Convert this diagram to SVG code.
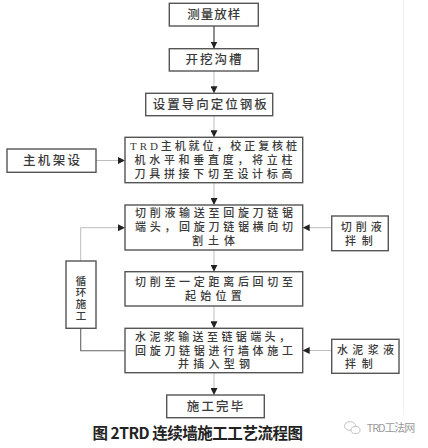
<svg xmlns="http://www.w3.org/2000/svg" width="428" height="448" viewBox="0 0 428 448">
<defs>
<style>
.box{fill:#fff;stroke:#555;stroke-width:1.4}
.t{font-family:"Liberation Serif","Noto Sans CJK SC",serif;font-size:12.5px;fill:#3a3a3a;font-weight:500}
.s{font-size:11px}
.c{text-anchor:middle}
.ln{stroke:#bdbdbd;stroke-width:1;fill:none}
.lnd{stroke:#444;stroke-width:1.2;fill:none}
.cap{font-family:"Noto Sans CJK SC","Liberation Sans",sans-serif;font-size:15.5px;fill:#222;font-weight:700}
.wm{font-family:"Noto Sans CJK SC","Liberation Sans",sans-serif;font-size:11px;fill:#9a9a9a}
</style>
<marker id="ah" viewBox="0 0 8 8" refX="8" refY="4" markerWidth="7" markerHeight="7" markerUnits="userSpaceOnUse" orient="auto">
<path d="M0,0 L8,4 L0,8 z" fill="#222"/>
</marker>
</defs>
<rect width="428" height="448" fill="#fff"/>
<line x1="403.5" y1="0" x2="403.5" y2="415" stroke="#f0f0f0" stroke-width="1"/>

<g id="connectors">
<line class="lnd" x1="214" y1="26" x2="214" y2="48.5" marker-end="url(#ah)"/>
<line class="ln" x1="214" y1="71" x2="214" y2="93.3" marker-end="url(#ah)"/>
<line class="ln" x1="214" y1="115.7" x2="214" y2="137.3" marker-end="url(#ah)"/>
<line class="ln" x1="214" y1="182.7" x2="214" y2="205" marker-end="url(#ah)"/>
<line class="ln" x1="214" y1="250" x2="214" y2="271.7" marker-end="url(#ah)"/>
<line class="ln" x1="214" y1="306" x2="214" y2="328.3" marker-end="url(#ah)"/>
<line class="ln" x1="214" y1="372.7" x2="214" y2="395" marker-end="url(#ah)"/>
<line class="ln" x1="96" y1="160.5" x2="125" y2="160.5" marker-end="url(#ah)"/>
<line class="ln" x1="331.7" y1="227.7" x2="302.7" y2="227.7" marker-end="url(#ah)"/>
<line class="ln" x1="331.7" y1="350.5" x2="302.7" y2="350.5" marker-end="url(#ah)"/>
<polyline class="ln" points="80.7,261 80.7,227.7 125,227.7" marker-end="url(#ah)"/>
<polyline points="125,350.7 80.7,350.7 80.7,328.3" fill="none" stroke="#666" stroke-width="1.1"/>
</g>

<g id="n1"><rect class="box" x="169.3" y="3.3" width="89" height="22.7"/>
<text class="t c" x="213.8" y="19.3" textLength="53" lengthAdjust="spacing">测量放样</text></g>

<g id="n2"><rect class="box" x="169.3" y="48.7" width="89" height="22.3"/>
<text class="t c" x="213.4" y="63.8" textLength="56" lengthAdjust="spacing">开挖沟槽</text></g>

<g id="n3"><rect class="box" x="145.7" y="93.3" width="127" height="22.4"/>
<text class="t c" x="209.7" y="108.6" textLength="114" lengthAdjust="spacing">设置导向定位钢板</text></g>

<g id="n4"><rect class="box" x="125" y="137.3" width="177.7" height="45.4"/>
<text class="t s c"><tspan x="213.5" y="149.9" textLength="167" lengthAdjust="spacing">TRD主机就位，校正复核桩</tspan><tspan x="213.5" y="163.8" textLength="158" lengthAdjust="spacing">机水平和垂直度，将立柱</tspan><tspan x="213.5" y="177.6" textLength="158" lengthAdjust="spacing">刀具拼接下切至设计标高</tspan></text></g>

<g id="n5"><rect class="box" x="7" y="149" width="89" height="23.3"/>
<text class="t c" x="51.5" y="164.5" textLength="57" lengthAdjust="spacing">主机架设</text></g>

<g id="n6"><rect class="box" x="125" y="205" width="177.7" height="45"/>
<text class="t s c"><tspan x="214" y="217.4" textLength="158" lengthAdjust="spacing">切削液输送至回旋刀链锯</tspan><tspan x="214" y="231.2" textLength="158" lengthAdjust="spacing">端头，回旋刀链锯横向切</tspan><tspan x="213.5" y="245" textLength="43" lengthAdjust="spacing">割土体</tspan></text></g>

<g id="n7"><rect class="box" x="331.7" y="216" width="56.6" height="34.7"/>
<text class="t s c"><tspan x="361.2" y="231.3" textLength="41" lengthAdjust="spacing">切削液</tspan><tspan x="358.8" y="245.2" textLength="27.7" lengthAdjust="spacing">拌制</tspan></text></g>

<g id="n8"><rect class="box" x="125" y="271.7" width="177.7" height="34.3"/>
<text class="t s c"><tspan x="214" y="285.6" textLength="158" lengthAdjust="spacing">切削至一定距离后回切至</tspan><tspan x="213.3" y="299.6" textLength="56.7" lengthAdjust="spacing">起始位置</tspan></text></g>

<g id="n9"><rect class="box" x="66" y="261" width="30" height="67.3"/>
<text class="t" x="81" y="275.3" style="font-family:'Noto Sans CJK SC',sans-serif;font-size:10.5px;writing-mode:vertical-rl;letter-spacing:1.2px">循环施工</text></g>

<g id="n10"><rect class="box" x="125" y="328.3" width="177.7" height="44.4"/>
<text class="t s"><tspan x="135" y="341" textLength="155" lengthAdjust="spacing">水泥浆输送至链锯端头，</tspan><tspan x="135" y="354.6" textLength="158" lengthAdjust="spacing">回旋刀链锯进行墙体施工</tspan><tspan x="178" y="368.2" textLength="72" lengthAdjust="spacing">并插入型钢</tspan></text></g>

<g id="n11"><rect class="box" x="331.7" y="339.3" width="67.3" height="34"/>
<text class="t s c"><tspan x="365.5" y="354.3" textLength="57" lengthAdjust="spacing">水泥浆液</tspan><tspan x="358.8" y="368" textLength="27.7" lengthAdjust="spacing">拌制</tspan></text></g>

<g id="n12"><rect class="box" x="166.7" y="395" width="97.6" height="22.7"/>
<text class="t c" x="215" y="410.5" textLength="56.6" lengthAdjust="spacing">施工完毕</text></g>

<text class="cap" x="92.5" y="439" textLength="210.5" lengthAdjust="spacing">图 2TRD 连续墙施工工艺流程图</text>

<g id="watermark">
<ellipse cx="350" cy="426" rx="5.5" ry="4.3" fill="none" stroke="#bbb" stroke-width="0.9"/>
<ellipse cx="355.5" cy="430" rx="4.5" ry="3.6" fill="#fff" stroke="#bbb" stroke-width="0.9"/>
<text class="wm" x="366.7" y="431.5" textLength="48.5" lengthAdjust="spacing">TRD工法网</text>
</g>
</svg>
